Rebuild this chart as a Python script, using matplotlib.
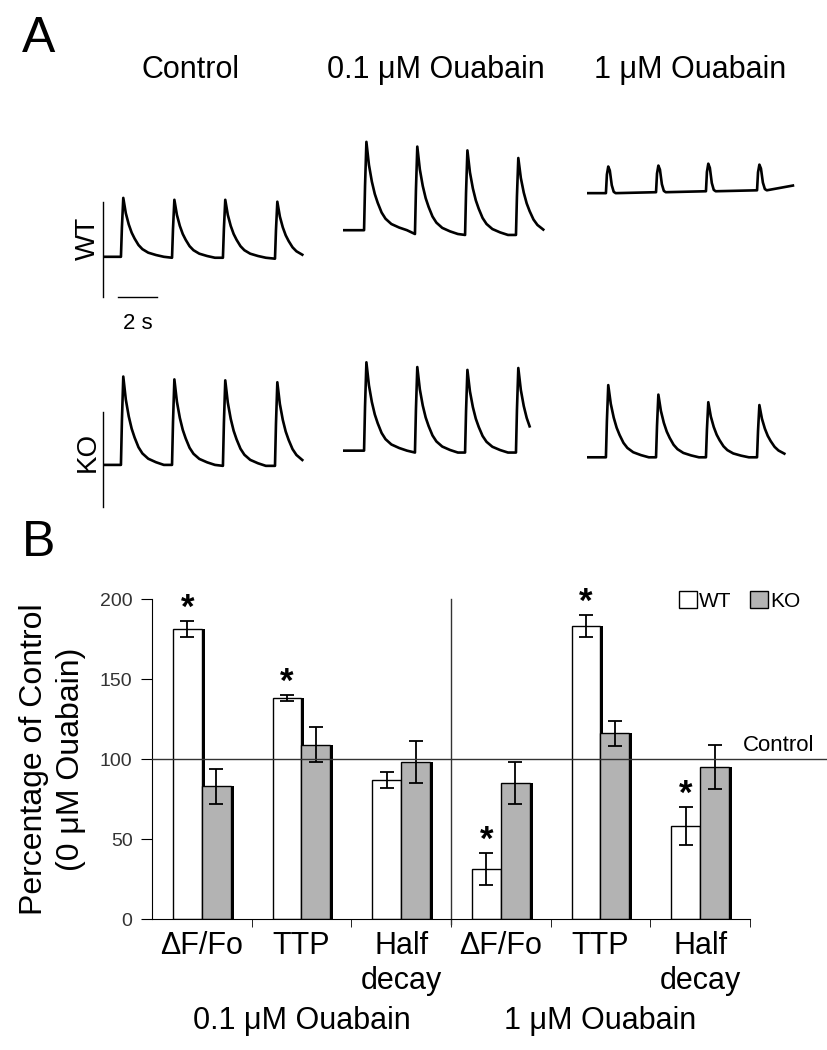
import numpy as np
import matplotlib.pyplot as plt
from matplotlib.patches import Patch
from matplotlib import transforms

plt.rcParams['font.family'] = ['Liberation Sans', 'DejaVu Sans']

W, H = 828, 1050

# ---- panel A: calcium transients (time in s, fluorescence in scale-bar units)
columns = ['Control', '0.1 \u03bcM Ouabain', '1 \u03bcM Ouabain']
rows = ['WT', 'KO']

onsets = [[0.92, 3.54, 6.15, 8.82],
          [1.08, 3.69, 6.26, 8.87],
          [0.97, 3.54, 6.10, 8.72]]
t_end = {('WT', 0): 10.26, ('WT', 1): 10.5, ('WT', 2): 10.56,
         ('KO', 0): 10.35, ('KO', 1): 9.75, ('KO', 2): 10.4}

baselines = {('WT', 0): [0.56, 0.55, 0.55, 0.54, 0.56],
             ('WT', 1): [0.84, 0.80, 0.79, 0.79, 0.78],
             ('WT', 2): [1.23, 1.24, 1.25, 1.26, 1.31],
             ('KO', 0): [0.58, 0.58, 0.57, 0.57, 0.57],
             ('KO', 1): [0.73, 0.71, 0.71, 0.71, 0.71],
             ('KO', 2): [0.66, 0.66, 0.66, 0.66, 0.66]}
amplitudes = {('WT', 0): [0.62, 0.61, 0.61, 0.60],
              ('WT', 1): [0.93, 0.92, 0.89, 0.81],
              ('WT', 2): [0.28, 0.28, 0.29, 0.27],
              ('KO', 0): [0.93, 0.90, 0.90, 0.88],
              ('KO', 1): [0.93, 0.90, 0.87, 0.89],
              ('KO', 2): [0.76, 0.66, 0.58, 0.55]}

# transient shape (s after onset, fraction of peak)
shape_t = [0, 0.05, 0.12, 0.25, 0.4, 0.55, 0.7, 0.9, 1.1, 1.4, 1.8, 2.2]
shape_v = [0, 0.5, 1.0, 0.74, 0.55, 0.41, 0.31, 0.2, 0.13, 0.07, 0.03, 0.0]
blip_t = [0, 0.05, 0.12, 0.2, 0.3, 0.4, 0.5]
blip_v = [0, 0.7, 1.0, 0.85, 0.3, 0.05, 0.0]

# ---- panel B: bar chart
categories = ['\u0394F/Fo', 'TTP', 'Half\ndecay', '\u0394F/Fo', 'TTP', 'Half\ndecay']
groups = ['0.1 \u03bcM Ouabain', '1 \u03bcM Ouabain']
wt_mean = [181, 138, 87, 31, 183, 58]
wt_err = [5, 2, 5, 10, 7, 12]
ko_mean = [83, 109, 98, 85, 116, 95]
ko_err = [11, 11, 13, 13, 8, 14]
wt_star = [True, True, False, True, True, True]


def box(x0, y0, x1, y1):
    return [x0 / W, 1 - y1 / H, (x1 - x0) / W, (y1 - y0) / H]


fig = plt.figure(figsize=(W / 100, H / 100), dpi=100)

col_x = [103, 343, 587]
row_y = {'WT': 130, 'KO': 340}
for r in rows:
    for c in range(3):
        ax = fig.add_axes(box(col_x[c], row_y[r], col_x[c] + 210, row_y[r] + 180))
        ax.set_xlim(0, 210 / 19.5)
        ax.set_ylim(0, 180 / 95)
        ax.axis('off')
        base = baselines[(r, c)]
        amp = amplitudes[(r, c)]
        st, sv = (blip_t, blip_v) if (r, c) == ('WT', 2) else (shape_t, shape_v)
        tt = [0.0]
        yy = [base[0]]
        for i, t0 in enumerate(onsets[c]):
            for a, b in zip(st, sv):
                tt.append(t0 + a)
                yy.append(base[i] + amp[i] * b)
        if t_end[(r, c)] > tt[-1]:
            tt.append(t_end[(r, c)])
            yy.append(base[-1])
        tt = np.array(tt)
        yy = np.array(yy)
        keep = tt <= t_end[(r, c)]
        ax.plot(tt[keep], yy[keep], color='black', lw=1.9, solid_joinstyle='round')
        if c == 0:
            ax.plot([0, 0], [0.14, 1.14], color='black', lw=1.0, clip_on=False)
            if r == 'WT':
                ax.plot([0.77, 2.77], [0.14, 0.14], color='black', lw=1.0)
                ax.text(1.77, -0.03, '2 s', ha='center', va='top', fontsize=16)

fig.text(22 / W, 1 - 39 / H, 'A', fontsize=36, va='center', ha='left')
fig.text(22 / W, 1 - 543 / H, 'B', fontsize=36, va='center', ha='left')
for x, lab in zip([191, 436, 690], columns):
    fig.text(x / W, 1 - 70 / H, lab, fontsize=22, ha='center', va='center')
fig.text(88 / W, 1 - 238 / H, 'WT', fontsize=20, rotation=90, ha='center', va='center')
fig.text(88 / W, 1 - 452 / H, 'KO', fontsize=20, rotation=90, ha='center', va='center')

# ---- panel B
ax = fig.add_axes(box(152, 599, 750, 919))
x = np.arange(len(categories))
bw = 0.29
for xs, m, e, col in [(x - bw / 2, wt_mean, wt_err, 'white'),
                      (x + bw / 2, ko_mean, ko_err, '#b3b3b3')]:
    ax.bar(xs + 0.03, m, bw, color='black', zorder=1)
    ax.bar(xs, m, bw, color=col, edgecolor='black', linewidth=1.0, zorder=2)
    ax.errorbar(xs, m, yerr=e, fmt='none', ecolor='black', elinewidth=1.3,
                capsize=5, capthick=1.3, zorder=3)
for i in range(len(categories)):
    if wt_star[i]:
        ax.text(x[i] - bw / 2, wt_mean[i] + wt_err[i] + 8, '*', ha='center',
                va='center', fontsize=25, fontweight='bold', clip_on=False)

ax.set_xlim(-0.5, 5.5)
ax.set_ylim(0, 200)
ax.plot([-0.5, 6.35], [100, 100], color='#333333', lw=1.0, clip_on=False, zorder=4)
ax.text(6.15, 102, 'Control', ha='right', va='bottom', fontsize=16)
ax.plot([2.5, 2.5], [-3, 200], color='#333333', lw=1.0, clip_on=False)

ax.spines['top'].set_visible(False)
ax.spines['right'].set_visible(False)
ax.set_yticks([0, 50, 100, 150, 200])
ax.tick_params(axis='y', labelsize=14, labelcolor='#333333', length=8,
               direction='out', pad=6)
ax.set_xticks(x)
ax.set_xticklabels(categories, fontsize=22, linespacing=1.2)
ax.tick_params(axis='x', length=0, pad=9)
ax.set_xticks([0.5, 1.5, 2.5, 3.5, 4.5, 5.5], minor=True)
ax.tick_params(axis='x', which='minor', length=6, direction='out')
ax.set_ylabel('Percentage of Control\n(0 \u03bcM Ouabain)', fontsize=23,
              labelpad=10, linespacing=1.3)

tr = transforms.blended_transform_factory(ax.transData, fig.transFigure)
for gx, g in zip([1, 4], groups):
    ax.text(gx, 1.0 - 1021 / H, g, transform=tr, ha='center', va='center', fontsize=22)

fig.legend(handles=[Patch(facecolor='white', edgecolor='black', label='WT'),
                    Patch(facecolor='#b3b3b3', edgecolor='black', label='KO')],
           loc='center', bbox_to_anchor=(740 / W, 1 - 601 / H), ncol=2, frameon=False,
           fontsize=15, handlelength=0.85, handleheight=0.85, handletextpad=0.1,
           columnspacing=0.9, borderpad=0)

fig.savefig('out.png', dpi=100)
